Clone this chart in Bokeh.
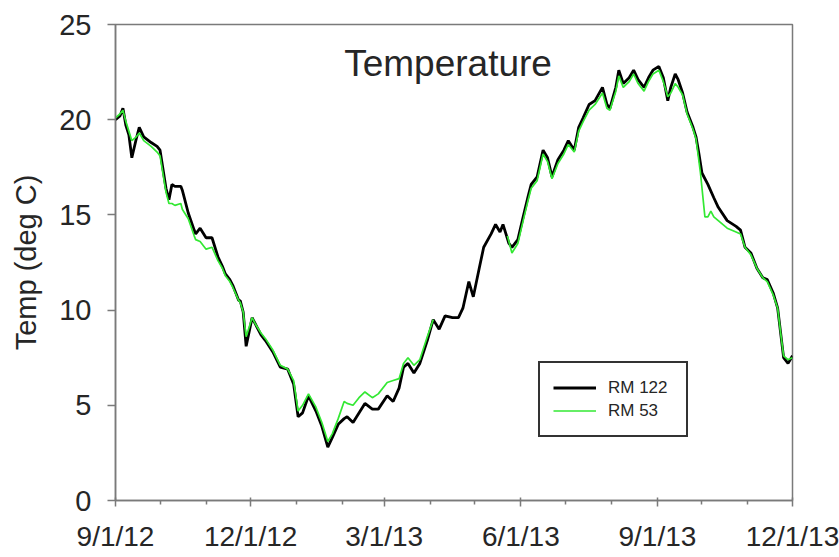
import numpy as np
import pandas as pd
from bokeh.plotting import figure
from bokeh.models import FixedTicker, Range1d, Label, ColumnDataSource
from bokeh.embed import file_html
from bokeh.resources import INLINE

# ---------------- data ----------------
rm122_dates = [
    "2012-09-01", "2012-09-04", "2012-09-06", "2012-09-08", "2012-09-10", "2012-09-12",
    "2012-09-15", "2012-09-17", "2012-09-20", "2012-09-25", "2012-09-29", "2012-10-01",
    "2012-10-05", "2012-10-07", "2012-10-09", "2012-10-11", "2012-10-15", "2012-10-16",
    "2012-10-20", "2012-10-24", "2012-10-25", "2012-10-28", "2012-11-01", "2012-11-05",
    "2012-11-09", "2012-11-12", "2012-11-14", "2012-11-17", "2012-11-19", "2012-11-23",
    "2012-11-24", "2012-11-26", "2012-11-28", "2012-12-02", "2012-12-04", "2012-12-08",
    "2012-12-11", "2012-12-16", "2012-12-21", "2012-12-26", "2012-12-30", "2013-01-02",
    "2013-01-05", "2013-01-09", "2013-01-14", "2013-01-18", "2013-01-22", "2013-01-25",
    "2013-01-29", "2013-02-02", "2013-02-04", "2013-02-08", "2013-02-12", "2013-02-16",
    "2013-02-21", "2013-02-25", "2013-03-03", "2013-03-07", "2013-03-11", "2013-03-14",
    "2013-03-17", "2013-03-21", "2013-03-25", "2013-03-30", "2013-04-03", "2013-04-07",
    "2013-04-11", "2013-04-16", "2013-04-20", "2013-04-23", "2013-04-27", "2013-04-30",
    "2013-05-04", "2013-05-07", "2013-05-12", "2013-05-15", "2013-05-18", "2013-05-20",
    "2013-05-24", "2013-05-26", "2013-05-30", "2013-06-02", "2013-06-06", "2013-06-08",
    "2013-06-12", "2013-06-16", "2013-06-19", "2013-06-22", "2013-06-26", "2013-06-30",
    "2013-07-03", "2013-07-07", "2013-07-10", "2013-07-13", "2013-07-17", "2013-07-21",
    "2013-07-26", "2013-07-29", "2013-07-31", "2013-08-04", "2013-08-06", "2013-08-09",
    "2013-08-13", "2013-08-16", "2013-08-19", "2013-08-23", "2013-08-26", "2013-08-29",
    "2013-09-02", "2013-09-05", "2013-09-08", "2013-09-10", "2013-09-13", "2013-09-15",
    "2013-09-18", "2013-09-21", "2013-09-25", "2013-09-27", "2013-09-29", "2013-10-01",
    "2013-10-05", "2013-10-09", "2013-10-12", "2013-10-18", "2013-10-24", "2013-10-27",
    "2013-10-30", "2013-11-03", "2013-11-07", "2013-11-11", "2013-11-14", "2013-11-18",
    "2013-11-21", "2013-11-23", "2013-11-25", "2013-11-28", "2013-12-01",
]
rm122_temp = [
    20.0, 20.2, 20.6, 19.7, 19.2, 18.0,
    19.0, 19.6, 19.1, 18.8, 18.6, 18.4,
    16.4, 15.8, 16.6, 16.5, 16.5, 16.3,
    15.1, 14.2, 14.0, 14.3, 13.8, 13.8,
    12.8, 12.3, 11.9, 11.6, 11.3, 10.5,
    10.5, 9.9, 8.1, 9.6, 9.3, 8.7,
    8.4, 7.8, 7.0, 6.9, 6.1, 4.4,
    4.6, 5.5, 4.7, 3.9, 2.8, 3.3,
    4.0, 4.3, 4.4, 4.1, 4.6, 5.1,
    4.8, 4.8, 5.5, 5.2, 5.9, 7.0,
    7.2, 6.7, 7.2, 8.4, 9.5, 9.0,
    9.7, 9.6, 9.6, 10.1, 11.5, 10.7,
    12.2, 13.3, 14.0, 14.5, 14.1, 14.5,
    13.5, 13.3, 13.7, 14.7, 16.0, 16.6,
    17.0, 18.4, 18.0, 17.0, 17.9, 18.4,
    18.9, 18.4, 19.6, 20.1, 20.8, 21.0,
    21.7, 20.8, 20.6, 21.7, 22.6, 21.9,
    22.2, 22.6, 22.1, 21.7, 22.2, 22.6,
    22.8, 22.2, 21.0, 21.7, 22.4, 22.1,
    21.4, 20.4, 19.6, 19.1, 18.2, 17.2,
    16.6, 15.9, 15.4, 14.7, 14.4, 14.2,
    13.3, 13.0, 12.2, 11.7, 11.6, 10.9,
    10.1, 8.8, 7.5, 7.2, 7.6,
]

rm53_dates = [
    "2012-09-01", "2012-09-04", "2012-09-06", "2012-09-08", "2012-09-10", "2012-09-12",
    "2012-09-15", "2012-09-17", "2012-09-20", "2012-09-25", "2012-09-29", "2012-10-01",
    "2012-10-05", "2012-10-07", "2012-10-09", "2012-10-11", "2012-10-15", "2012-10-16",
    "2012-10-20", "2012-10-24", "2012-10-25", "2012-10-28", "2012-11-01", "2012-11-05",
    "2012-11-09", "2012-11-12", "2012-11-14", "2012-11-17", "2012-11-19", "2012-11-23",
    "2012-11-24", "2012-11-26", "2012-11-28", "2012-12-02", "2012-12-04", "2012-12-08",
    "2012-12-11", "2012-12-16", "2012-12-21", "2012-12-26", "2012-12-30", "2013-01-02",
    "2013-01-05", "2013-01-09", "2013-01-14", "2013-01-18", "2013-01-22", "2013-01-25",
    "2013-01-29", "2013-02-02", "2013-02-04", "2013-02-08", "2013-02-12", "2013-02-16",
    "2013-02-21", "2013-02-25", "2013-03-03", "2013-03-07", "2013-03-11", "2013-03-14",
    "2013-03-17", "2013-03-21", "2013-03-25", "2013-03-30", "2013-04-03", "2013-04-04",
    "2013-05-23", "2013-05-26", "2013-05-30", "2013-06-02", "2013-06-06", "2013-06-08",
    "2013-06-12", "2013-06-16", "2013-06-19", "2013-06-22", "2013-06-26", "2013-06-30",
    "2013-07-03", "2013-07-07", "2013-07-10", "2013-07-13", "2013-07-17", "2013-07-21",
    "2013-07-26", "2013-07-29", "2013-07-31", "2013-08-04", "2013-08-06", "2013-08-09",
    "2013-08-13", "2013-08-16", "2013-08-19", "2013-08-23", "2013-08-26", "2013-08-29",
    "2013-09-02", "2013-09-05", "2013-09-08", "2013-09-10", "2013-09-13", "2013-09-15",
    "2013-09-18", "2013-09-21", "2013-09-25", "2013-09-27", "2013-09-30", "2013-10-03",
    "2013-10-05", "2013-10-07", "2013-10-09", "2013-10-12", "2013-10-18", "2013-10-24",
    "2013-10-27", "2013-10-30", "2013-11-03", "2013-11-07", "2013-11-11", "2013-11-14",
    "2013-11-18", "2013-11-21", "2013-11-23", "2013-11-25", "2013-11-28", "2013-12-01",
]
rm53_temp = [
    20.1, 20.3, 20.5, 19.9, 19.4, 18.9,
    19.1, 19.3, 18.9, 18.6, 18.3, 18.1,
    16.2, 15.6, 15.6, 15.5, 15.6, 15.3,
    14.8, 13.9, 13.7, 13.6, 13.2, 13.3,
    12.6, 12.2, 11.8, 11.5, 11.2, 10.5,
    10.4, 9.9, 8.6, 9.6, 9.3, 8.8,
    8.5, 7.9, 7.1, 6.9, 6.3, 4.7,
    5.0, 5.6, 4.9, 4.1, 3.1, 3.5,
    4.3, 5.2, 5.1, 5.0, 5.4, 5.7,
    5.4, 5.6, 6.2, 6.3, 6.4, 7.2,
    7.5, 7.1, 7.4, 8.6, 9.5, float("nan"),
    13.9, 13.0, 13.5, 14.5, 15.8, 16.4,
    16.8, 18.2, 17.8, 16.9, 17.7, 18.2,
    18.7, 18.3, 19.4, 19.9, 20.5, 20.8,
    21.4, 20.6, 20.5, 21.5, 22.3, 21.7,
    22.0, 22.4, 21.9, 21.5, 22.0, 22.4,
    22.6, 22.0, 21.2, 21.4, 21.9, 21.7,
    21.3, 20.3, 19.5, 19.0, 17.2, 14.9,
    14.9, 15.2, 14.9, 14.7, 14.3, 14.1,
    14.0, 13.3, 12.9, 12.2, 11.7, 11.5,
    10.8, 10.1, 8.8, 7.6, 7.4, 7.5,
]

tick_dates = ["2012-09-01", "2012-12-01", "2013-03-01", "2013-06-01", "2013-09-01", "2013-12-01"]
tick_labels = ["9/1/12", "12/1/12", "3/1/13", "6/1/13", "9/1/13", "12/1/13"]
minor_tick_dates = [
    "2012-10-01", "2012-11-01", "2013-01-01", "2013-02-01", "2013-04-01",
    "2013-05-01", "2013-07-01", "2013-08-01", "2013-10-01", "2013-11-01",
]
y_ticks = [0, 5, 10, 15, 20, 25]

series_names = ["RM 122", "RM 53"]
title_text = "Temperature"
y_label = "Temp (deg C)"


def ms(d):
    return int(pd.Timestamp(d).value // 10**6)


FONT = "Liberation Sans"
TEXT_COLOR = "#262626"
AXIS_COLOR = "#7a7a7a"

p = figure(
    width=839, height=557,
    x_axis_type="datetime",
    output_backend="svg", toolbar_location=None,
    x_range=Range1d(ms(tick_dates[0]), ms(tick_dates[-1])),
    y_range=Range1d(0, 25),
    min_border_left=115, min_border_right=47,
    min_border_top=24, min_border_bottom=57,
)
p.background_fill_color = "white"
p.border_fill_color = "white"
p.grid.visible = False
p.outline_line_color = AXIS_COLOR
p.outline_line_width = 1.5
p.outline_line_alpha = 1.0

src122 = ColumnDataSource(dict(x=pd.to_datetime(rm122_dates), y=rm122_temp))
src53 = ColumnDataSource(dict(x=pd.to_datetime(rm53_dates), y=rm53_temp))

p.line("x", "y", source=src122, line_color="#000000", line_width=2.8,
       legend_label=series_names[0])
p.line("x", "y", source=src53, line_color="#33e833", line_width=1.7,
       legend_label=series_names[1])

# x axis
xa = p.xaxis[0]
xa.ticker = FixedTicker(ticks=[ms(d) for d in tick_dates],
                        minor_ticks=[ms(d) for d in minor_tick_dates])
xa.major_label_overrides = {ms(d): lab for d, lab in zip(tick_dates, tick_labels)}
xa.major_label_text_font = FONT
xa.major_label_text_font_size = "28px"
xa.major_label_text_color = TEXT_COLOR
xa.major_label_standoff = 14
xa.axis_line_color = AXIS_COLOR
xa.axis_line_width = 1.5
xa.major_tick_line_color = AXIS_COLOR
xa.minor_tick_line_color = AXIS_COLOR
xa.major_tick_line_width = 1.5
xa.minor_tick_line_width = 1.5
xa.major_tick_in = 3
xa.major_tick_out = 6
xa.minor_tick_in = 0
xa.minor_tick_out = 4

# y axis
ya = p.yaxis[0]
ya.ticker = FixedTicker(ticks=y_ticks, minor_ticks=[])
ya.major_label_text_font = FONT
ya.major_label_text_font_size = "29px"
ya.major_label_text_color = TEXT_COLOR
ya.major_label_standoff = 16
ya.axis_line_color = AXIS_COLOR
ya.axis_line_width = 1.5
ya.major_tick_line_color = AXIS_COLOR
ya.major_tick_line_width = 1.5
ya.major_tick_in = 0
ya.major_tick_out = 8
ya.axis_label = y_label
ya.axis_label_text_font = FONT
ya.axis_label_text_font_size = "29px"
ya.axis_label_text_font_style = "normal"
ya.axis_label_text_color = TEXT_COLOR
ya.axis_label_standoff = 14

# title inside the plot
p.add_layout(Label(x=ms("2013-04-13"), y=22.95, text=title_text,
                   text_align="center", text_baseline="middle",
                   text_font=FONT, text_font_size="37px", text_color=TEXT_COLOR))

# legend
lg = p.legend[0]
lg.location = (423, 63)
lg.border_line_color = "#333333"
lg.border_line_width = 2
lg.border_line_alpha = 1.0
lg.background_fill_color = "white"
lg.background_fill_alpha = 1.0
lg.label_text_font = FONT
lg.label_text_font_size = "17px"
lg.label_text_color = TEXT_COLOR
lg.glyph_width = 43
lg.glyph_height = 23
lg.label_height = 23
lg.label_width = 65
lg.label_standoff = 12
lg.spacing = 0
lg.padding = 13
lg.margin = 0

open("out.html", "w").write(file_html(p, INLINE))
